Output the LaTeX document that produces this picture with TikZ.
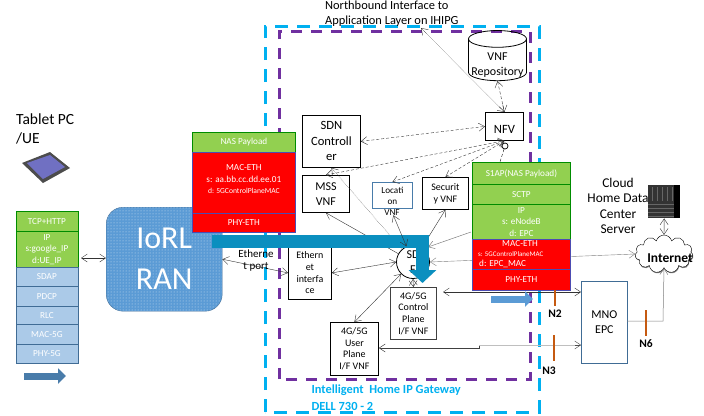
\documentclass[tikz,border=0pt]{standalone}
\usepackage{fontspec}
\setmainfont{Carlito}
\usepackage{tikz}
\usetikzlibrary{positioning,arrows.meta,shapes.geometric,shapes.symbols,patterns,shadows}
\definecolor{stackgreen}{HTML}{92D050}
\definecolor{stackblue}{HTML}{ABCAE8}
\definecolor{ranblue}{HTML}{5B9BD5}
\definecolor{flowblue}{HTML}{0B8FBF}
\definecolor{framecyan}{HTML}{00B0F0}
\definecolor{framepurple}{HTML}{7030A0}
\definecolor{barorange}{HTML}{C55A11}
\tikzset{
  barb/.tip={Straight Barb[length=6pt,width=8pt]},
  layer/.style={draw,anchor=north west,inner sep=0pt,align=center,text=white,font=\fontsize{9.2}{11.5}\selectfont},
  greenlayer/.style={layer,fill=stackgreen,draw=green!55!black,line width=0.8pt},
  redlayer/.style={layer,fill=red,draw=blue!40!gray,line width=0.8pt},
  bluelayer/.style={layer,fill=stackblue,draw=ranblue!70!black,line width=0.8pt,text=white},
  vnfbox/.style={draw,line width=0.8pt,fill=white,anchor=north west,inner sep=0pt,align=center,font=\fontsize{10}{11.6}\selectfont},
  link/.style={barb-barb,line width=0.4pt,draw=black!80},
  dashlink/.style={link,densely dashed},
  dotlink/.style={link,densely dotted},
  orangebar/.style={draw=barorange,line width=2.4pt},
  barlabel/.style={font=\fontsize{11.5}{13}\selectfont\bfseries},
  blockarrow/.style={line width=7pt,-{Triangle[length=8pt,width=15pt]}},
  framelabel/.style={anchor=west,text=framecyan,font=\fontsize{12.4}{14}\selectfont\bfseries}
}
\begin{document}
\begin{tikzpicture}[x=1pt,y=-1pt]
\useasboundingbox (0,0) rectangle (704,415);
% gateway frames
\draw[framecyan,line width=3pt,dash pattern=on 13pt off 9pt] (265,412) -- (265,26) -- (539,26) -- (539,412) -- cycle;
\draw[framepurple,line width=3pt,dash pattern=on 11pt off 9pt] (279,379) -- (279,31) -- (530,31) -- (530,379) -- cycle;
\node[framelabel] (gwname) at (308,390) {Intelligent\ \ Home IP Gateway};
\node[framelabel] (gwmodel) at (308,406) {DELL 730 - 2};
\node[anchor=north west,inner sep=0pt,align=left,font=\fontsize{12.4}{15}\selectfont] (north) at (325,1) {Northbound Interface to\\Application Layer on IHIPG};
\coordinate (northend) at (421,28);
% tablet
\node[anchor=north west,inner sep=0pt,align=left,font=\fontsize{15.5}{19}\selectfont] (tablet) at (16,114) {Tablet PC\\/UE};
\fill[black!70] (22,163) -- (50,152) -- (70,168) -- (43,183) -- cycle;
\fill[blue!40!gray!80] (27,163) -- (50,155) -- (65,167) -- (43,179) -- cycle;
% UE stack
\node[greenlayer,minimum width=62,minimum height=20] (uetcp) at (15.5,211) {TCP+HTTP};
\node[greenlayer,minimum width=62,minimum height=36] (ueip) at (15.5,231) {IP\\s:google\_IP\\d:UE\_IP};
\node[bluelayer,minimum width=62,minimum height=19] (uesdap) at (15.5,267) {SDAP};
\node[bluelayer,minimum width=62,minimum height=20] (uepdcp) at (15.5,286) {PDCP};
\node[bluelayer,minimum width=62,minimum height=18] (uerlc) at (15.5,306) {RLC};
\node[bluelayer,minimum width=62,minimum height=20] (uemac) at (15.5,324) {MAC-5G};
\node[bluelayer,minimum width=62,minimum height=19] (uephy) at (15.5,344) {PHY-5G};
\coordinate (uearrowa) at (24,376);
\coordinate (uearrowb) at (66,376);
\draw[blockarrow,draw=ranblue!80!black] (uearrowa) -- (uearrowb);
% RAN
\node[draw=ranblue!70!black,fill=ranblue,rounded corners=17pt,minimum width=116,minimum height=104,anchor=north west,text=white,align=center,inner sep=0pt,font=\fontsize{32}{41}\selectfont,
  postaction={pattern=dots,pattern color=white!70!ranblue}] (ran) at (106,207) {IoRL\\RAN};
% NAS stack
\node[greenlayer,minimum width=103,minimum height=20] (naspay) at (192,132) {NAS Payload};
\node[redlayer,minimum width=103,minimum height=61,text depth=7pt] (nasmac) at (192,152) {MAC-ETH\\s: aa.bb.cc.dd.ee.01\\{\fontsize{7.6}{10}\selectfont d: 5GControlPlaneMAC}};
\node[redlayer,minimum width=103,minimum height=19] (nasphy) at (192,213) {PHY-ETH};
% VNF boxes
\node[vnfbox,minimum width=58,minimum height=52,font=\fontsize{12.6}{15.5}\selectfont] (sdnctl) at (302,115) {SDN\\Controll\\er};
\node[vnfbox,minimum width=47,minimum height=37,font=\fontsize{12}{15}\selectfont] (mss) at (302,175) {MSS\\VNF};
\node[vnfbox,minimum width=40,minimum height=26,draw=ranblue!80!black,font=\fontsize{9.2}{11}\selectfont] (loc) at (372,182) {Locati\\on};
\node[anchor=north,inner sep=0pt,font=\fontsize{9.2}{11}\selectfont] (locvnf) at (392,209) {VNF};
\node[vnfbox,minimum width=46,minimum height=32,font=\fontsize{10}{12}\selectfont] (sec) at (422,177) {Securit\\y VNF};
\node[vnfbox,minimum width=38,minimum height=28,text height=15pt,font=\fontsize{12.6}{15}\selectfont] (nfv) at (485,112) {NFV};
\node[cylinder,shape border rotate=90,draw,line width=0.8pt,aspect=0.32,minimum width=58,minimum height=50,inner sep=0pt,align=center,anchor=center,font=\fontsize{12}{15}\selectfont] (repo) at (497.5,60) {\phantom{VNF}\\\phantom{Repository}};
\node[inner sep=0pt,align=center,font=\fontsize{12}{15}\selectfont] (repotext) at (497.5,65) {VNF\\Repository};
\node[vnfbox,minimum width=43,minimum height=53] (eth) at (288,246) {Ethern\\et\\interfa\\ce};
\node[circle,draw,fill=white,line width=0.8pt,minimum size=33,inner sep=0pt,align=center,font=\fontsize{12}{15}\selectfont] (sdn) at (413,262) {SD\\F};
\node[vnfbox,minimum width=46,minimum height=52,draw=black!75] (ctlplane) at (390,287) {4G/5G\\Control\\Plane\\I/F VNF};
\node[vnfbox,minimum width=48,minimum height=53] (usrplane) at (330,322) {4G/5G\\User\\Plane\\I/F VNF};
\node[draw,line width=0.7pt,circle,minimum size=6,inner sep=0pt] (pile) at (505,146) {};
% core links
\draw[dotlink] (northend) -- (nfv.north);
\draw[dashlink] (repo.south) -- (nfv.north);
\draw[dashlink] (sdnctl.east) -- (nfv.west);
\draw[dashlink] (mss.north) -- (nfv.south);
\draw[dashlink] (loc.north) -- (nfv.south);
\draw[dashlink] (sec.north) -- (nfv.south);
\draw[densely dashed,line width=0.4pt] (pile) -- (500,162);
\draw[dotlink,barb-] (sdnctl.south) -- (sdn);
\draw[link,-barb] (sdn) -- (mss.south);
\draw[link] (sdn) -- (sec.south);
\draw[link] (eth.east) -- (sdn.west);
\draw[link] (usrplane.north) -- (sdn.south west);
\draw[link] (ctlplane.north) -- (sdn.south);
\draw[link] (ran.east) -- (eth.west);
\draw[link] (81,258) coordinate (uelink) -- (ran.west |- uelink);
\node[inner sep=0pt,align=center,font=\fontsize{11}{12}\selectfont] (ethport) at (256,261) {Etherne\\t port};
% cloud side
\node[cloud,draw,fill=white,cloud puffs=11,aspect=1.6,minimum width=58,minimum height=38,inner sep=0pt,drop shadow={shadow xshift=0.5pt,shadow yshift=-1pt,fill=black}] (inet) at (664,254) {};
\node[inner sep=0pt,font=\fontsize{13.5}{15}\selectfont\bfseries] (inettext) at (670,258) {Internet};
\draw[link,draw=gray] (sdn.east) -- (inet.west);
\draw[gray,line width=0.5pt,-barb] (471,232) -- (428,247);
% S1AP stack
\node[greenlayer,minimum width=98,minimum height=22] (s1ap) at (472,162) {S1AP(NAS Payload)};
\node[greenlayer,minimum width=98,minimum height=20] (sctp) at (472,184) {SCTP};
\node[greenlayer,minimum width=98,minimum height=35] (epcip) at (472,204) {IP\\s: eNodeB\\d: EPC};
\node[redlayer,minimum width=98,minimum height=30] (epcmac) at (472,239) {};
\node[inner sep=0pt,text=white,font=\fontsize{9.2}{11}\selectfont] (epcmacname) at (520,244) {MAC-ETH};
\node[inner sep=0pt,anchor=west,text=white,font=\fontsize{7}{9}\selectfont] (epcmacsrc) at (478,254) {s: 5GControlPlaneMAC};
\node[inner sep=0pt,anchor=west,text=white,font=\fontsize{9.2}{11}\selectfont] (epcmacdst) at (479,264) {d: EPC\_MAC};
\node[redlayer,minimum width=98,minimum height=21] (epcphy) at (472,269) {PHY-ETH};
% MNO
\node[vnfbox,draw=ranblue!70!black,minimum width=46,minimum height=82,font=\fontsize{12}{15}\selectfont] (mno) at (581,281) {MNO\\EPC};
\coordinate (ctlport) at (443,292);
\coordinate (usrbend) at (479,348);
\draw[link] (ctlport) -- (mno.west |- ctlport);
\draw[black!75,line width=0.5pt,barb-] (usrplane.east |- usrbend) -- (usrbend) -- ++(0,-3) coordinate (usrup);
\draw[black!25,line width=1pt] (usrup) -- (mno.west |- usrup);
\draw[black!70,line width=0.4pt,-barb] (575,345) coordinate (usrtip) -- (mno.west |- usrtip);
\coordinate (mnoout) at (627,321);
\draw[gray,line width=0.5pt,-barb] (mnoout) -- (663,321) -- (inet.south);
% server
\node[fill=black!80,minimum width=32,minimum height=33,anchor=north west,inner sep=0pt] (server) at (648,185) {};
\fill[black] (674,185) rectangle (680,218);
\foreach \x in {652,657,662,667,672} {
  \draw[black!60,line width=0.4pt] (\x,187) -- (\x,201);
}
\foreach \y in {204,208,212,216} {
  \draw[black!60,line width=0.4pt] (648,\y) -- (674,\y);
}
\draw[link] (server.south) -- (inet.north);
\node[inner sep=0pt,align=center,font=\fontsize{13.4}{15.4}\selectfont] (cloudlbl) at (618,206) {Cloud\\Home Data\\Center\\Server};
% N labels
\draw[orangebar] (555,290) -- (555,306);
\draw[orangebar] (554,335) -- (554,361);
\draw[orangebar] (646,310) -- (646,336);
\node[barlabel] (ntwo) at (555,314) {N2};
\node[barlabel] (nthree) at (549,371) {N3};
\node[barlabel] (nsix) at (646,344) {N6};
\coordinate (flowa) at (491,299);
\coordinate (flowb) at (533,299);
\draw[blockarrow,draw=ranblue] (flowa) -- (flowb);
% control plane flow
\coordinate (banda) at (212,241.5);
\coordinate (bandb) at (422.5,241.5);
\coordinate (bandc) at (422.5,283);
\draw[flowblue,line width=13pt,-{Triangle[length=13pt,width=27pt]}] (banda) -- (bandb) -- (bandc);
\draw[link] (locvnf) -- (sdn);
\end{tikzpicture}
\end{document}
